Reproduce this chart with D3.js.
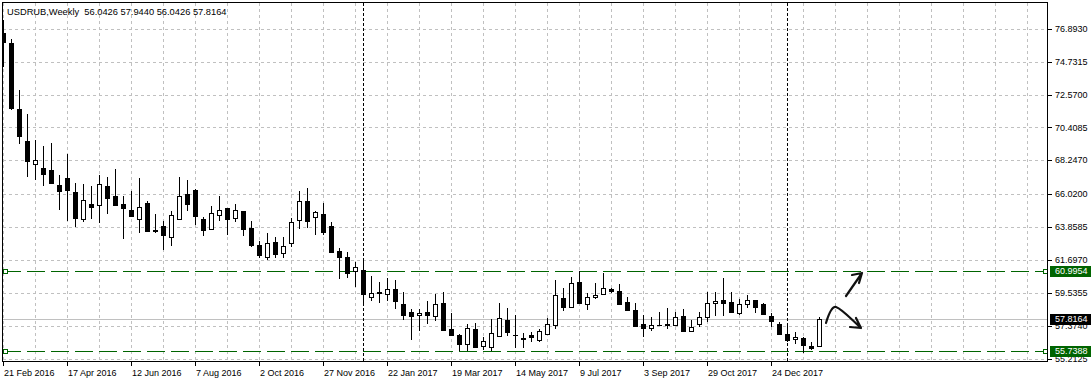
<!DOCTYPE html>
<html lang="en">
<head>
<meta charset="UTF-8">
<title>USDRUB Weekly</title>
<script src="https://d3js.org/d3.v7.min.js"></script>
<style>
  body { margin: 0; background: #fff; }
  svg { display: block; font-family: "Liberation Sans", Arial, sans-serif; font-size: 9px; }
</style>
</head>
<body>
<svg id="chart" width="1091" height="383"></svg>
<script>
// weekly candles, first bar = 21 Feb 2016
const opens = [76.61,75.96,71.62,69.52,67.99,67.76,67.61,66.65,67.09,66.19,64.41,65.38,65.29,66.56,65.90,65.38,64.98,64.37,65.44,63.69,
  63.93,63.23,64.41,66.03,66.30,64.37,63.74,64.67,65.11,64.44,64.92,63.80,62.68,61.88,62.88,62.14,62.80,64.31,65.57,64.50,
  64.72,63.93,62.31,61.92,60.98,61.04,59.25,59.60,59.45,59.79,58.81,58.28,58.07,58.28,58.04,58.87,57.17,56.75,56.16,57.15,
  56.03,55.96,56.69,57.76,56.76,56.55,56.77,56.44,56.82,57.41,59.18,58.59,60.23,58.79,59.27,59.45,59.77,59.64,58.96,58.39,
  57.47,57.21,57.40,57.49,57.41,58.00,57.05,57.47,57.97,58.85,59.07,58.94,58.20,58.79,59.07,58.81,58.02,57.47,56.82,56.49,
  56.55,56.05,56.0426]
const highs = [77.47,76.22,72.87,71.27,69.58,69.19,69.40,67.28,68.68,66.78,66.69,66.56,67.28,67.15,67.68,65.90,66.23,67.09,65.57,64.72,
  64.26,64.94,67.15,66.95,66.36,64.50,65.25,65.92,65.13,65.38,64.93,64.28,62.95,63.49,63.19,63.21,64.44,66.23,66.43,64.92,
  65.44,64.20,62.49,62.22,61.55,61.68,60.65,60.23,60.54,60.36,59.58,58.50,58.50,59.00,59.48,59.60,58.24,56.84,57.49,57.56,
  56.66,57.80,58.87,58.55,58.09,56.92,56.97,57.15,57.87,60.36,59.86,60.58,60.98,59.51,60.17,60.82,59.84,60.10,59.27,58.85,
  58.09,57.93,58.30,58.56,58.26,58.48,57.74,58.26,59.58,59.58,60.54,59.58,59.12,59.38,59.08,58.89,58.24,57.62,57.43,56.99,
  56.66,56.33,57.944]
const lows = [74.38,71.55,69.32,67.17,66.95,66.58,66.75,64.98,64.28,63.89,64.21,64.39,64.15,64.72,65.31,63.08,64.59,63.49,63.56,63.45,
  62.36,62.62,64.39,64.94,64.00,63.28,63.67,64.26,63.34,64.21,63.28,62.57,61.85,61.70,61.85,61.85,62.57,63.72,63.82,63.36,
  63.34,62.22,60.47,60.50,59.90,58.79,59.02,58.89,59.02,58.50,57.76,56.44,57.03,57.49,57.71,57.08,56.78,55.72,55.72,55.99,
  55.78,55.74,56.62,56.70,55.94,55.94,56.29,56.31,56.81,57.15,58.35,58.58,58.88,58.43,59.12,59.38,59.55,58.82,58.42,57.32,
  56.66,57.01,57.39,57.18,57.34,56.99,57.01,57.32,57.64,58.04,58.04,58.25,58.07,58.52,58.20,58.14,57.32,56.75,56.33,56.16,
  55.57,55.78,56.0426]
const closes = [76.02,71.69,69.87,68.22,68.25,67.35,66.78,66.23,66.30,64.46,65.64,65.20,66.69,65.79,65.33,65.13,64.61,65.16,63.62,63.58,
  63.36,64.65,65.88,65.40,64.61,63.67,64.77,64.96,64.39,64.96,63.75,62.70,62.05,62.82,62.11,62.60,64.18,65.56,64.28,64.85,
  63.56,62.24,61.92,60.82,61.22,59.45,59.53,59.51,59.77,59.02,58.10,58.04,58.22,58.10,58.81,57.10,56.79,56.20,57.21,56.00,
  56.36,56.90,57.87,56.99,56.75,56.49,56.62,57.03,57.47,59.40,58.59,60.17,58.89,59.25,59.40,59.84,59.68,58.83,58.43,57.38,
  57.21,57.41,57.41,57.41,57.93,57.03,57.32,57.97,58.85,58.99,58.85,58.26,58.81,59.05,58.63,58.15,57.71,56.84,56.44,56.62,
  56.11,55.94,57.8164]

const xTickLabels = ["21 Feb 2016","17 Apr 2016","12 Jun 2016","7 Aug 2016","2 Oct 2016","27 Nov 2016","22 Jan 2017",
  "19 Mar 2017","14 May 2017","9 Jul 2017","3 Sep 2017","29 Oct 2017","24 Dec 2017"]
const xTickBars = [0,8,16,24,32,40,48,56,64,72,80,88,96]
const yTickLabels = ["76.8930","74.7315","72.5700","70.4085","68.2470","66.0200","63.8585","61.6970","59.5355","57.3740","55.2125"]
const levels = [60.9954, 55.7388]
const bid = 57.8164
const yearBreaks = [45, 98]
const title = "USDRUB,Weekly  56.0426 57.9440 56.0426 57.8164"

const pLeft = 2.5, pRight = 1047.5, pTop = 2.5, pBottom = 361.5

let svg = d3.select('#chart')

let x = d3.scaleLinear().domain([0, 130]).range([3.5, 1043.5])
let y = d3.scaleLinear().domain([55.7388, 60.9954]).range([350.7, 270.7])

svg.append('clipPath').attr('id', 'plot')
   .append('rect').attr('x', pLeft).attr('y', pTop).attr('width', pRight - pLeft).attr('height', pBottom - pTop)

let plot = svg.append('g').attr('clip-path', 'url(#plot)').attr('shape-rendering', 'crispEdges')

// grid
plot.selectAll('.hgrid')
    .data(yTickLabels)
    .enter()
    .append('line')
    .attr('x1', pLeft).attr('x2', pRight)
    .attr('y1', d => Math.round(y(+d)) + 0.5).attr('y2', d => Math.round(y(+d)) + 0.5)
    .attr('stroke', '#c0c0c0').attr('stroke-dasharray', '3,3')

plot.selectAll('.vgrid')
    .data(d3.range(0, 131, 4))
    .enter()
    .append('line')
    .attr('x1', d => x(d)).attr('x2', d => x(d))
    .attr('y1', pTop).attr('y2', pBottom)
    .attr('stroke', '#c0c0c0').attr('stroke-dasharray', '3,3')

// bid line
plot.append('line')
    .attr('x1', pLeft).attr('x2', pRight)
    .attr('y1', Math.round(y(bid)) + 0.5).attr('y2', Math.round(y(bid)) + 0.5)
    .attr('stroke', '#c0c0c0')

// year separators
plot.selectAll('.sep')
    .data(yearBreaks)
    .enter()
    .append('line')
    .attr('x1', d => x(d)).attr('x2', d => x(d))
    .attr('y1', pTop).attr('y2', pBottom)
    .attr('stroke', '#000').attr('stroke-dasharray', '3,2')

// horizontal levels
plot.selectAll('.level')
    .data(levels)
    .enter()
    .append('line')
    .attr('x1', pLeft).attr('x2', pRight)
    .attr('y1', d => Math.round(y(d)) + 0.5).attr('y2', d => Math.round(y(d)) + 0.5)
    .attr('stroke', '#006400').attr('stroke-dasharray', '18,6')

levels.forEach(v => {
    [5, 1045].forEach(px => {
        plot.append('rect')
            .attr('x', px - 2).attr('y', Math.round(y(v)) - 1.5)
            .attr('width', 4).attr('height', 4)
            .attr('fill', '#fff').attr('stroke', '#006400')
    })
})

// candles
let candles = plot.selectAll('.candle')
    .data(opens.map((o, i) => ({ i: i, o: o, h: highs[i], l: lows[i], c: closes[i] })))
    .enter()
    .append('g')

candles.append('line')
    .attr('x1', d => x(d.i)).attr('x2', d => x(d.i))
    .attr('y1', d => y(d.h)).attr('y2', d => y(d.l))
    .attr('stroke', '#000')

candles.append('rect')
    .attr('x', d => x(d.i) - 2)
    .attr('width', 4)
    .attr('y', d => Math.round(y(Math.max(d.o, d.c))) + 0.5)
    .attr('height', d => Math.max(Math.round(y(Math.min(d.o, d.c))) - Math.round(y(Math.max(d.o, d.c))), 0.01))
    .attr('fill', d => d.c >= d.o ? '#fff' : '#000')
    .attr('stroke', '#000')

// frame
svg.append('rect')
   .attr('x', pLeft).attr('y', pTop).attr('width', pRight - pLeft).attr('height', pBottom - pTop)
   .attr('fill', 'none').attr('stroke', '#000').attr('shape-rendering', 'crispEdges')

// x axis
svg.selectAll('.xtick')
   .data(xTickBars)
   .enter()
   .append('line')
   .attr('x1', d => x(d)).attr('x2', d => x(d))
   .attr('y1', pBottom).attr('y2', pBottom + 4)
   .attr('stroke', '#000').attr('shape-rendering', 'crispEdges')

svg.selectAll('.xlabel')
   .data(xTickLabels)
   .enter()
   .append('text')
   .attr('x', (d, i) => x(xTickBars[i]) + 0.5)
   .attr('y', 375.5)
   .attr('fill', '#000')
   .text(d => d)

// y axis
svg.selectAll('.ytick')
   .data(yTickLabels)
   .enter()
   .append('line')
   .attr('x1', pRight).attr('x2', pRight + 4)
   .attr('y1', d => Math.round(y(+d)) + 0.5).attr('y2', d => Math.round(y(+d)) + 0.5)
   .attr('stroke', '#000').attr('shape-rendering', 'crispEdges')

svg.selectAll('.ylabel')
   .data(yTickLabels)
   .enter()
   .append('text')
   .attr('x', 1055)
   .attr('y', d => y(+d))
   .attr('dy', '0.35em')
   .attr('fill', '#000')
   .text(d => d)

// price labels
let priceTags = levels.map(v => ({ v: v, fill: '#006400' })).concat([{ v: bid, fill: '#000' }])
let tags = svg.selectAll('.tag').data(priceTags).enter().append('g')
tags.append('rect')
    .attr('x', 1050).attr('y', d => Math.round(y(d.v)) - 5)
    .attr('width', 41).attr('height', 11)
    .attr('fill', d => d.fill)
tags.append('text')
    .attr('x', 1055).attr('y', d => y(d.v))
    .attr('dy', '0.35em')
    .attr('fill', '#fff')
    .text(d => d.v.toFixed(4))

// title
svg.append('text')
   .attr('x', 7).attr('y', 15)
   .attr('fill', '#000')
   .style('font-size', '9.3px')
   .style('white-space', 'pre')
   .text(title)

// hand drawn arrows
let arrows = svg.append('g')
    .attr('fill', 'none').attr('stroke', '#111').attr('stroke-width', 2.2)
    .attr('stroke-linecap', 'round').attr('stroke-linejoin', 'round')
arrows.append('path').attr('d', 'M846,296 L862,273 M852,275 L862,273 L859,283')
arrows.append('path').attr('d', 'M826,323 C829,313 832,306 836,307 C842,309 851,319 861,328 M850,327 L861,328 L856,318')
</script>
</body>
</html>
